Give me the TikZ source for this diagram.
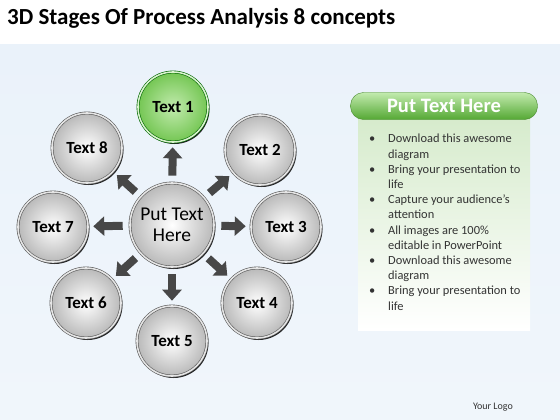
\documentclass[tikz,border=0pt]{standalone}
\usepackage{fontspec}
\setmainfont{Carlito}
\usepackage{tikz}
\usetikzlibrary{arrows.meta,positioning,shadows}
\usepackage{xcolor}
\definecolor{bgblue}{HTML}{EAF2FA}
\definecolor{spokegray}{HTML}{474747}
\definecolor{leafgreen}{HTML}{74C653}
\definecolor{palegreen}{HTML}{C2EBAE}
\definecolor{bargreen}{HTML}{55A834}
\definecolor{panelgreen}{HTML}{D6EBCC}
\newcommand{\pointmark}{\llap{\textbullet\hspace{13pt}}}

\begin{document}
\begin{tikzpicture}[
      x=1pt, y=-1pt,
      >=Latex,
      stage/.style={circle, minimum size=70pt, inner sep=0pt, draw=gray!70!black, line width=0.6pt, double=gray!20, double distance=1.6pt, inner color=white, outer color=gray!55, font=\fontsize{17}{20}\selectfont\bfseries, drop shadow={shadow xshift=1.5pt, shadow yshift=-2pt, fill=black, opacity=0.85}},
      firststage/.style={stage, draw=green!40!black, double=palegreen!60, inner color=palegreen, outer color=leafgreen},
      hubstage/.style={stage, minimum size=84pt, align=center, font=\fontsize{19.5}{21}\selectfont},
      spoke/.style={-{Triangle[width=19pt,length=11pt]}, line width=8pt, draw=spokegray, shorten <=7pt, shorten >=5pt},
      header/.style={draw=bargreen!80!black, rounded corners=13pt, minimum width=187pt, minimum height=27pt, top color=palegreen, bottom color=bargreen, text=white, font=\fontsize{20.5}{22}\selectfont\bfseries},
      bullets/.style={align=left, inner sep=0pt, text=black!80, font=\fontsize{12.4}{15.2}\selectfont}
    ]
    \useasboundingbox (0,0) rectangle (560,420);
    \fill[top color=bgblue, middle color=white, bottom color=bgblue!70] (0,45) rectangle (560,420);

    \node[anchor=base west, inner sep=0pt, font=\fontsize{23}{26}\selectfont\bfseries] (title) at (7,25) {3D Stages Of Process Analysis 8 concepts};

    \node[hubstage] (hub) at (172,225) {Put Text\\Here};
    \node[firststage] (t1) at (173,107) {Text 1};
    \node[stage] (t2) at (260,150) {Text 2};
    \node[stage] (t3) at (286,227) {Text 3};
    \node[stage] (t4) at (257,303) {Text 4};
    \node[stage] (t5) at (172,341) {Text 5};
    \node[stage] (t6) at (86,303) {Text 6};
    \node[stage] (t7) at (53,227) {Text 7};
    \node[stage] (t8) at (87,148) {Text 8};

    \draw[spoke] (hub) -- (t1);
    \draw[spoke] (hub) -- (t2);
    \draw[spoke] (hub) -- (t3);
    \draw[spoke] (hub) -- (t4);
    \draw[spoke] (hub) -- (t5);
    \draw[spoke] (hub) -- (t6);
    \draw[spoke] (hub) -- (t7);
    \draw[spoke] (hub) -- (t8);

    \fill[top color=panelgreen, bottom color=white] (358,118) rectangle (530,330);
    \node[header] (head) at (444,106) {Put Text Here};
    \node[bullets, anchor=north west] (list) at (388,134) {\pointmark Download this awesome\\diagram\\\pointmark Bring your presentation to\\life\\\pointmark Capture your audience’s\\attention\\\pointmark All images are 100\%\\editable in PowerPoint\\\pointmark Download this awesome\\diagram\\\pointmark Bring your presentation to\\life};

    \node[anchor=base east, inner sep=0pt, text=black!80, font=\fontsize{10}{12}\selectfont] (logo) at (513,409) {Your Logo};
  \end{tikzpicture}
\end{document}
